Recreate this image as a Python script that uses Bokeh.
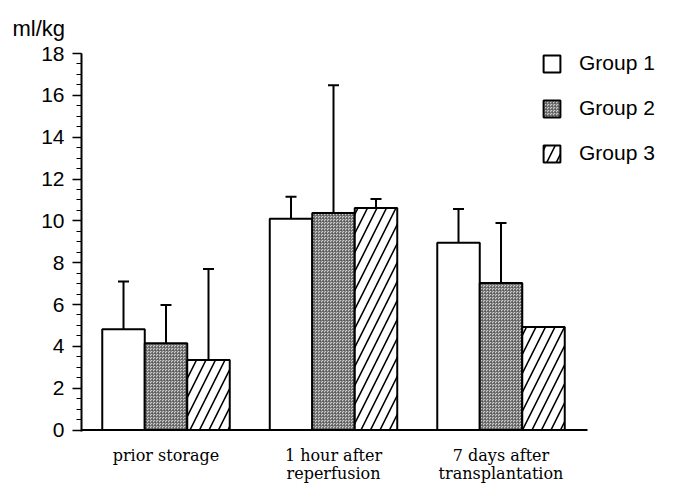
from bokeh.plotting import figure
from bokeh.models import (ColumnDataSource, Range1d, FixedTicker, Whisker, TeeHead,
                          Legend, LegendItem, Title)
from bokeh.embed import file_html
from bokeh.resources import INLINE

# ---------------- data ----------------
categories = ["prior storage", "1 hour after\nreperfusion", "7 days after\ntransplantation"]
groups = ["Group 1", "Group 2", "Group 3"]
group1_mean = [4.82, 10.10, 8.95]
group1_sd = [2.28, 1.05, 1.62]
group2_mean = [4.15, 10.38, 7.03]
group2_sd = [1.83, 6.10, 2.87]
group3_mean = [3.35, 10.62, 4.93]
group3_sd = [4.35, 0.43, 0.0]
y_ticks = [0, 2, 4, 6, 8, 10, 12, 14, 16, 18]
y_tick_labels = ["0", "2", "4", "6", "8", "10", "12", "14", "16", "18"]
y_unit = "ml/kg"

means = [group1_mean, group2_mean, group3_mean]
sds = [group1_sd, group2_sd, group3_sd]

# ---------------- figure ----------------
W, H = 677, 485
x_start, x_axis_end, x_end = -0.5045, 2.5164, 3.0537
p = figure(width=W, height=H, output_backend="svg", toolbar_location=None,
           x_range=Range1d(x_start, x_end), y_range=Range1d(-0.07, 18),
           min_border_left=81, min_border_right=0, min_border_top=53, min_border_bottom=53)
p.outline_line_color = None
p.xgrid.grid_line_color = None
p.ygrid.grid_line_color = None
p.background_fill_color = "white"
p.border_fill_color = "white"

bw = 0.2537
offsets = [-bw, 0.0, bw]
styles = [
    dict(fill_color="white"),
    dict(fill_color="#cdcdcd", hatch_pattern="criss_cross", hatch_scale=3,
         hatch_color="#505050", hatch_weight=0.6),
    dict(fill_color="white", hatch_pattern="right_diagonal_line", hatch_scale=19,
         hatch_color="black", hatch_weight=1.6),
]

# baseline (x axis line, ends before the legend area)
p.segment(x0=[x_start], y0=[0], x1=[x_axis_end], y1=[0], line_color="black", line_width=2)

renderers = []
for g in range(3):
    xs = [i + offsets[g] for i in range(len(categories))]
    src = ColumnDataSource(dict(x=xs, top=means[g]))
    r = p.vbar(x="x", top="top", bottom=0, width=bw, source=src,
               line_color="black", line_width=2, **styles[g])
    renderers.append(r)
    wx, wl, wu = [], [], []
    for i in range(len(categories)):
        if sds[g][i] > 0:
            wx.append(xs[i]); wl.append(means[g][i]); wu.append(means[g][i] + sds[g][i])
    wsrc = ColumnDataSource(dict(base=wx, lower=wl, upper=wu))
    p.add_layout(Whisker(source=wsrc, base="base", lower="lower", upper="upper",
                         dimension="height", line_color="black", line_width=2,
                         upper_head=TeeHead(size=11, line_width=2, line_color="black"),
                         lower_head=None))

# ---------------- axes ----------------
yaxis = p.left[0]
yaxis.ticker = FixedTicker(ticks=y_ticks, minor_ticks=[k * 0.5 for k in range(37)])
yaxis.major_label_overrides = {t: l for t, l in zip(y_ticks, y_tick_labels)}
yaxis.major_label_text_font = "Liberation Sans"
yaxis.major_label_text_font_size = "21px"
yaxis.major_label_text_color = "black"
yaxis.major_label_standoff = 8
yaxis.axis_line_width = 2
yaxis.axis_line_color = "black"
yaxis.major_tick_in = 0
yaxis.major_tick_out = 9
yaxis.major_tick_line_width = 1.5
yaxis.minor_tick_in = 0
yaxis.minor_tick_out = 5
yaxis.minor_tick_line_width = 1.2
yaxis.minor_tick_line_color = "black"

xaxis = p.below[0]
xaxis.ticker = FixedTicker(ticks=list(range(len(categories))))
xaxis.major_label_overrides = {i: c for i, c in enumerate(categories)}
xaxis.major_tick_line_color = None
xaxis.minor_tick_line_color = None
xaxis.major_tick_out = 0
xaxis.major_tick_in = 0
xaxis.axis_line_color = None
xaxis.major_label_standoff = 14
xaxis.major_label_text_font = "DejaVu Serif"
xaxis.major_label_text_font_size = "16px"
xaxis.major_label_text_line_height = 0.95
xaxis.major_label_text_color = "black"

# unit label above the y axis
unit_title = Title(text=y_unit, align="left", vertical_align="top", offset=-69,
                   standoff=22, text_font="Liberation Sans", text_font_size="22px",
                   text_font_style="normal", text_color="black")
p.add_layout(unit_title, "above")

# ---------------- legend ----------------
legend = Legend(items=[LegendItem(label=groups[g], renderers=[renderers[g]]) for g in range(3)],
                location=(460, 266), orientation="vertical",
                glyph_width=21, glyph_height=21, label_height=21,
                label_standoff=17, spacing=21, padding=0, margin=0,
                label_text_font="Liberation Sans", label_text_font_size="21px",
                label_text_color="black",
                border_line_color=None, background_fill_alpha=0)
p.add_layout(legend)

open("out.html", "w").write(file_html(p, INLINE))
